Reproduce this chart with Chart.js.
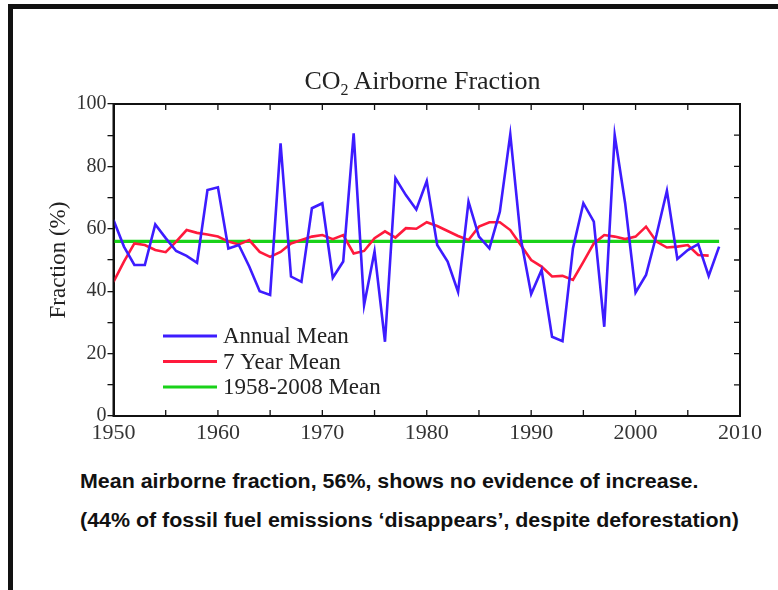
<!DOCTYPE html>
<html lang="en">
<head>
    <meta charset="UTF-8">
    <title>CO2 Airborne Fraction</title>
    <script src="https://cdn.jsdelivr.net/npm/chart.js"></script>
    <style>
        html, body { margin: 0; padding: 0; background: #fff; }
        body { width: 778px; height: 590px; position: relative; overflow: hidden; }
        #frame { position: absolute; left: 8px; top: 4px; width: 800px; height: 620px;
                 border-left: 5px solid #111; border-top: 5px solid #111; }
        #title { position: absolute; left: 250px; width: 345px; top: 66px; text-align: center;
                 font-family: "Liberation Serif", serif; font-size: 26px; color: #222; }
        #title sub { font-size: 16px; }
        #chartCont { position: absolute; left: 0; top: 0; width: 778px; height: 450px; }
        .note { position: absolute; left: 80px; font-family: "Liberation Sans", Arial, sans-serif;
                font-weight: bold; font-size: 20px; color: #111; white-space: nowrap;
                transform: scaleX(1.07); transform-origin: left center; }
    </style>
</head>
<body>
    <div id="frame"></div>
    <div id="chartCont"><canvas id="myChart" width="778" height="450"></canvas></div>
    <div id="title">CO<sub>2</sub> Airborne Fraction</div>
    <div class="note" style="top: 470px">Mean airborne fraction, 56%, shows no evidence of increase.</div>
    <div class="note" style="top: 509px">(44% of fossil fuel emissions ‘disappears’, despite deforestation)</div>
<script>
// data
const annualYears = [];
for (let y = 1950; y <= 2008; y++) annualYears.push(y);
const annualMean = [62.8, 54.3, 48.4, 48.4, 61.4, 57.0, 52.9, 51.3, 49.1, 72.4,
                    73.3, 53.7, 54.8, 47.9, 40.0, 38.8, 87.4, 44.7, 43.0, 66.6,
                    68.2, 44.3, 49.5, 90.6, 35.6, 52.7, 23.8, 76.2, 70.8, 66.2,
                    75.3, 54.8, 49.5, 39.8, 68.7, 57.5, 53.7, 65.5, 90.3, 57.0,
                    39.1, 46.8, 25.4, 24.0, 53.7, 68.2, 62.3, 28.6, 90.0, 68.2,
                    39.6, 45.2, 58.0, 72.2, 50.3, 53.2, 55.1, 44.9, 54.3];
const sevenYears = annualYears.slice(0, 58);
const sevenYearMean = [43.0, 49.5, 55.3, 54.8, 53.2, 52.5, 55.9, 59.6, 58.7, 58.2,
                       57.5, 55.9, 55.0, 56.4, 52.6, 51.0, 52.6, 55.3, 56.4, 57.5,
                       58.0, 56.7, 58.0, 52.1, 52.9, 57.0, 59.2, 57.2, 60.2, 60.0,
                       62.1, 60.9, 59.3, 57.7, 56.4, 60.7, 62.1, 62.1, 59.6, 54.8,
                       50.0, 47.9, 44.7, 44.9, 43.6, 49.4, 55.3, 58.0, 57.5, 56.7,
                       57.5, 60.7, 55.9, 54.0, 54.3, 54.8, 51.6, 51.4];
const meanYears = [1950, 2008];
const meanValue = 56;
const seriesLabels = ['Annual Mean', '7 Year Mean', '1958-2008 Mean'];
const seriesColors = ['#3d1cff', '#ff1a3c', '#19d219'];

function pts(xs, ys) {
    return xs.map((x, i) => ({x: x, y: ys[i]}));
}

// frame, inward ticks and legend inside the plot
const decor = {
    id: 'decor',
    afterDatasetsDraw: (chart) => {
        const ctx = chart.ctx;
        const a = chart.chartArea;
        const xs = chart.scales.x, ys = chart.scales.y;
        ctx.save();
        ctx.strokeStyle = '#111';
        ctx.lineWidth = 2;
        ctx.strokeRect(a.left, a.top, a.right - a.left, a.bottom - a.top);
        ctx.lineWidth = 1.3;
        ctx.beginPath();
        for (let yr = 1955; yr < 2010; yr += 5) {
            const px = xs.getPixelForValue(yr);
            ctx.moveTo(px, a.bottom); ctx.lineTo(px, a.bottom - 6);
            ctx.moveTo(px, a.top); ctx.lineTo(px, a.top + 6);
        }
        for (let v = 10; v < 100; v += 10) {
            const py = ys.getPixelForValue(v);
            ctx.moveTo(a.right, py); ctx.lineTo(a.right - 6, py);
        }
        ctx.stroke();

        // legend
        ctx.font = '23px "Liberation Serif"';
        ctx.textBaseline = 'middle';
        chart.data.datasets.forEach((ds, i) => {
            const y = 336 + i * 25.5;
            ctx.strokeStyle = ds.borderColor;
            ctx.lineWidth = 3;
            ctx.beginPath();
            ctx.moveTo(163, y); ctx.lineTo(217, y);
            ctx.stroke();
            ctx.fillStyle = '#222';
            ctx.fillText(ds.label, 223, y + 1);
        });
        ctx.restore();
    }
};

Chart.defaults.font.family = '"Liberation Serif", serif';

const config = {
    type: 'line',
    data: {
        datasets: [
            {label: seriesLabels[0], data: pts(annualYears, annualMean), borderColor: seriesColors[0], borderWidth: 2.6},
            {label: seriesLabels[1], data: pts(sevenYears, sevenYearMean), borderColor: seriesColors[1], borderWidth: 2.6},
            {label: seriesLabels[2], data: pts(meanYears, meanYears.map(() => meanValue)), borderColor: seriesColors[2], borderWidth: 3.2}
        ]
    },
    plugins: [decor],
    options: {
        responsive: false,
        animation: false,
        pointRadius: 0,
        tension: 0,
        layout: {padding: {left: 45, right: 38, top: 104, bottom: 4}},
        plugins: {
            legend: {display: false},
            tooltip: {enabled: false}
        },
        scales: {
            x: {
                type: 'linear',
                min: 1950,
                max: 2010,
                afterFit: (s) => { s.height = 30; },
                border: {color: '#111', width: 2},
                grid: {display: false, drawTicks: false},
                ticks: {stepSize: 10, padding: 4, color: '#333', font: {size: 22},
                        callback: (v) => String(v)}
            },
            y: {
                min: 0,
                max: 100,
                afterFit: (s) => { s.width = 68.5; },
                border: {color: '#111', width: 2},
                grid: {drawOnChartArea: false, tickLength: 6, color: '#111', lineWidth: 1.3},
                ticks: {stepSize: 10, padding: 1, color: '#333', font: {size: 20},
                        callback: (v) => (v % 20 === 0 ? v : '')},
                title: {display: true, text: 'Fraction (%)', color: '#222', font: {size: 23}, padding: 0}
            }
        }
    }
};

const myChart = new Chart(document.getElementById('myChart'), config);
</script>
</body>
</html>
